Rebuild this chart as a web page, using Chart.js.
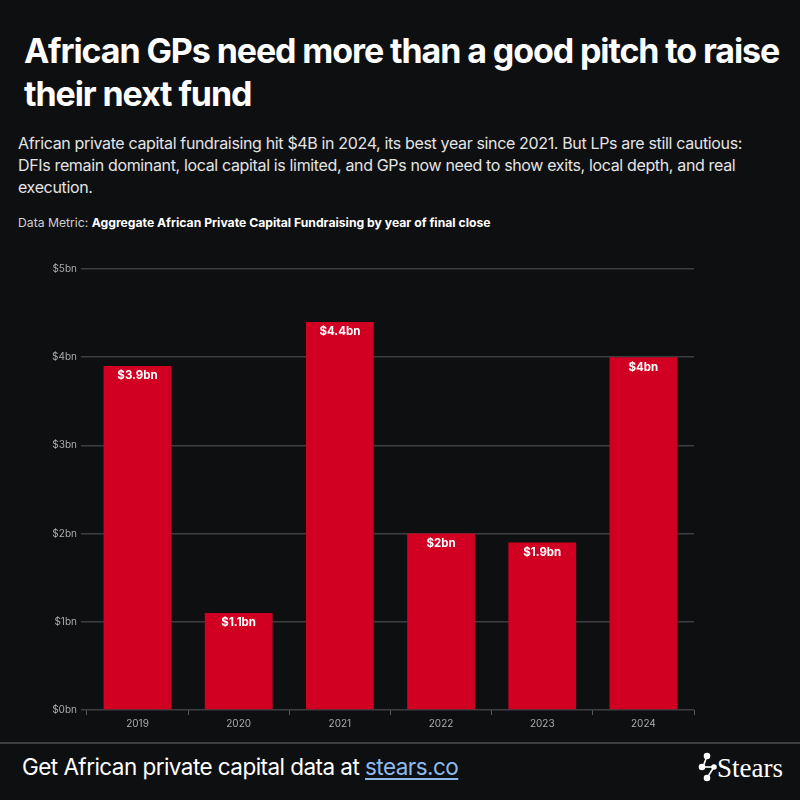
<!DOCTYPE html>
<html>
<head>
<meta charset="utf-8">
<script src="https://cdn.jsdelivr.net/npm/chart.js@4"></script>
<style>
  html,body{margin:0;padding:0;background:#0e0f11;}
  body{width:800px;height:800px;position:relative;overflow:hidden;font-family:Inter,"Noto Sans",sans-serif;color:#fff;}
  #title{position:absolute;left:24px;top:29px;width:776px;font-size:34px;font-weight:700;line-height:43px;letter-spacing:-1.1px;white-space:nowrap;}
  #sub{position:absolute;left:18px;top:132px;width:782px;font-size:16px;line-height:22px;color:#e4e4e4;letter-spacing:-0.35px;white-space:nowrap;}
  #metric{position:absolute;left:18px;top:215px;font-size:12.2px;color:#cfcfcf;letter-spacing:0px;white-space:nowrap;}
  #metric b{color:#fff;font-weight:700;}
  #wrap{position:absolute;left:0;top:255px;width:710px;height:478px;}
  #sep{position:absolute;left:0;top:742px;width:800px;height:2px;background:#3c3d40;}
  #foot{position:absolute;left:22px;top:753px;font-size:22.5px;letter-spacing:-0.55px;color:#fff;white-space:nowrap;}
  #foot span{color:#8fb8ec;text-decoration:underline;text-underline-offset:3px;}
  #logo{position:absolute;left:698px;top:751px;}
</style>
</head>
<body>
<div id="title">African GPs need more than a good pitch to raise<br>their next fund</div>
<div id="sub">African private capital fundraising hit $4B in 2024, its best year since 2021. But LPs are still cautious:<br>DFIs remain dominant, local capital is limited, and GPs now need to show exits, local depth, and real<br>execution.</div>
<div id="metric">Data Metric: <b>Aggregate African Private Capital Fundraising by year of final close</b></div>
<div id="wrap"><canvas id="c"></canvas></div>
<div id="sep"></div>
<div id="foot">Get African private capital data at <span>stears.co</span></div>
<svg id="logo" width="100" height="34" viewBox="0 0 100 34">
  <g stroke="#fff" stroke-width="1.6" fill="#fff">
    <line x1="9" y1="5" x2="5" y2="16"/>
    <line x1="5" y1="16" x2="16" y2="16"/>
    <line x1="16" y1="16" x2="9" y2="27"/>
    <circle cx="9" cy="5" r="2.5"/>
    <circle cx="4" cy="16" r="2.5"/>
    <circle cx="16" cy="16" r="2"/>
    <circle cx="9" cy="27" r="2.5"/>
  </g>
  <text x="19" y="26" font-family="'Liberation Serif','DejaVu Serif',serif" font-size="27" fill="#fff">Stears</text>
</svg>
<script>
const categories = ["2019","2020","2021","2022","2023","2024"];
const values = [3.9, 1.1, 4.4, 2.0, 1.9, 4.0];
const valueLabels = ["$3.9bn","$1.1bn","$4.4bn","$2bn","$1.9bn","$4bn"];
const yTicks = [0,1,2,3,4,5];

const labelPlugin = {
  id:'barLabels',
  afterDatasetsDraw(chart){
    const ctx = chart.ctx;
    const meta = chart.getDatasetMeta(0);
    ctx.save();
    ctx.fillStyle = '#ffffff';
    ctx.font = '700 11.5px Inter, "Noto Sans", sans-serif';
    ctx.textAlign = 'center';
    ctx.textBaseline = 'middle';
    meta.data.forEach((bar,i)=>{
      ctx.fillText(valueLabels[i], bar.x, bar.y + 10);
    });
    ctx.restore();
  }
};

new Chart(document.getElementById('c'),{
  type:'bar',
  data:{labels:categories,datasets:[{data:values,backgroundColor:'#d10023',borderWidth:0,barPercentage:0.67,categoryPercentage:1}]},
  options:{
    responsive:true,maintainAspectRatio:false,animation:false,
    layout:{padding:{top:14,right:16,left:48,bottom:0}},
    plugins:{legend:{display:false},tooltip:{enabled:false}},
    scales:{
      x:{
        grid:{display:true,drawOnChartArea:false,drawTicks:true,tickLength:5,color:'#55575b'},
        border:{display:false},
        ticks:{color:'#a9abaf',font:{size:10,family:'Inter, "Noto Sans", sans-serif'},padding:3}
      },
      y:{
        min:0,max:5,
        afterBuildTicks(axis){axis.ticks = yTicks.map(v=>({value:v}));},
        grid:{color:'#3d3e42',lineWidth:1.5,tickLength:6},
        border:{display:false},
        ticks:{color:'#a9abaf',font:{size:10,family:'Inter, "Noto Sans", sans-serif'},padding:4,callback:v=>'$'+v+'bn'}
      }
    }
  },
  plugins:[labelPlugin]
});
</script>
</body>
</html>
